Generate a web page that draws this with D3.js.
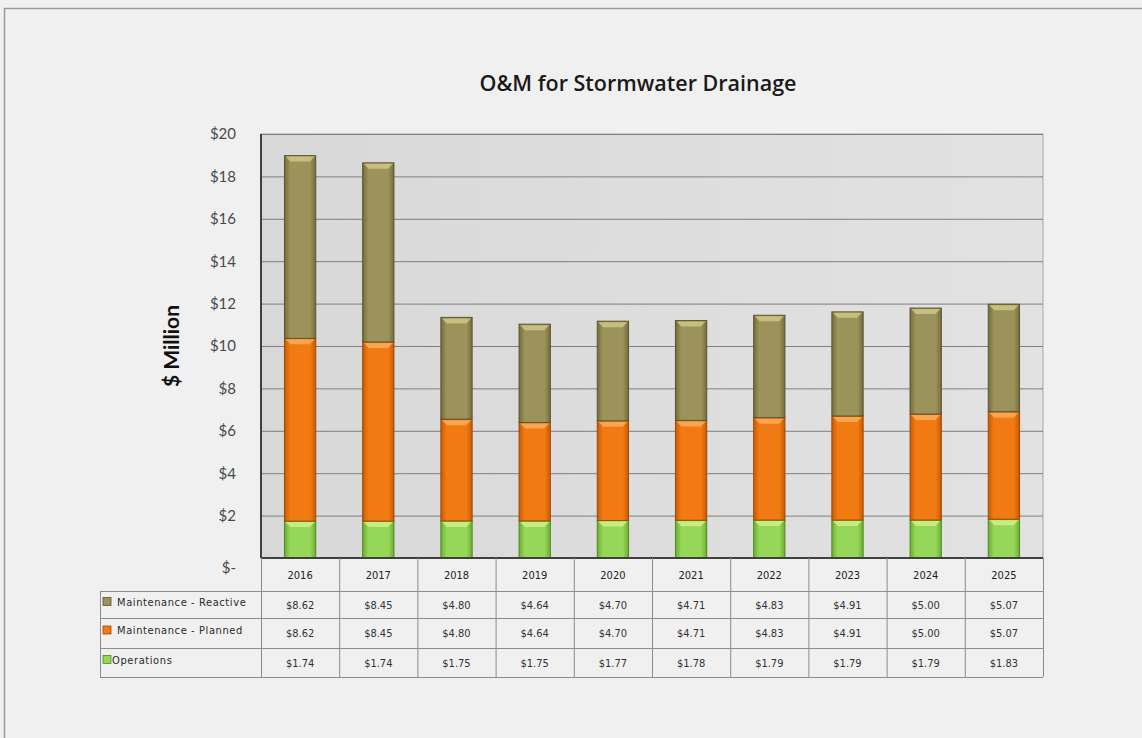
<!DOCTYPE html>
<html>
<head>
<meta charset="utf-8">
<script src="https://cdn.jsdelivr.net/npm/d3@7"></script>
<style>
  body { margin: 0; background: #f0f0f0; }
  svg { display: block; }
</style>
</head>
<body>
<div id="chart"></div>
<script>
var years = ['2016', '2017', '2018', '2019', '2020', '2021', '2022', '2023', '2024', '2025'];
var operations = [1.74, 1.74, 1.75, 1.75, 1.77, 1.78, 1.79, 1.79, 1.79, 1.83];
var planned = [8.62, 8.45, 4.80, 4.64, 4.70, 4.71, 4.83, 4.91, 5.00, 5.07];
var reactive = [8.62, 8.45, 4.80, 4.64, 4.70, 4.71, 4.83, 4.91, 5.00, 5.07];
var seriesNames = ['Maintenance - Reactive', 'Maintenance - Planned', 'Operations'];
var yTicks = [0, 2, 4, 6, 8, 10, 12, 14, 16, 18, 20];

var W = 1142, H = 738;
var plot = {left: 261, right: 1043, top: 134, bottom: 558};
var tableLeft = 100;
var rowEdges = [558, 591, 618, 648, 677];

var colors = {
  reactive: {mid: '#9c935a', edge: '#746c3c', top: '#d2ca88', stroke: '#5a5430'},
  planned: {mid: '#f27a12', edge: '#c85a05', top: '#fbb060', stroke: '#a04800'},
  operations: {mid: '#96d658', edge: '#6cae30', top: '#d4f28a', stroke: '#4f8a22'}
};

var svg = d3.select('#chart').append('svg')
  .attr('width', W)
  .attr('height', H);

// page + outer frame
svg.append('rect').attr('width', W).attr('height', H).attr('fill', '#f0f0f0');
svg.append('path')
  .attr('d', 'M4.5,' + H + 'V8.5H' + W)
  .attr('fill', 'none')
  .attr('stroke', '#9a9a9a')
  .attr('stroke-width', 1.5);

var defs = svg.append('defs');
Object.keys(colors).forEach(function(k) {
  var g = defs.append('linearGradient').attr('id', 'g-' + k)
    .attr('x1', '0').attr('x2', '1').attr('y1', '0').attr('y2', '0');
  g.append('stop').attr('offset', '0%').attr('stop-color', colors[k].edge);
  g.append('stop').attr('offset', '18%').attr('stop-color', colors[k].mid);
  g.append('stop').attr('offset', '82%').attr('stop-color', colors[k].mid);
  g.append('stop').attr('offset', '100%').attr('stop-color', colors[k].edge);
});
var bg = defs.append('linearGradient').attr('id', 'g-plot')
  .attr('x1', '0').attr('x2', '1').attr('y1', '0').attr('y2', '0');
bg.append('stop').attr('offset', '0%').attr('stop-color', '#d8d8d8');
bg.append('stop').attr('offset', '100%').attr('stop-color', '#e2e2e2');

var x = d3.scaleBand()
  .domain(years)
  .range([plot.left, plot.right])
  .paddingInner(0.6)
  .paddingOuter(0.3);

var col = d3.scaleBand()
  .domain(years)
  .range([plot.left, plot.right]);

var y = d3.scaleLinear()
  .domain([0, 20])
  .range([plot.bottom, plot.top]);

// plot background
svg.append('rect')
  .attr('x', plot.left).attr('y', plot.top)
  .attr('width', plot.right - plot.left)
  .attr('height', plot.bottom - plot.top)
  .attr('fill', 'url(#g-plot)')
  .attr('stroke', '#a6a6a6');

// gridlines
svg.append('g')
  .selectAll('line')
  .data(yTicks.filter(function(d) { return d > 0; }))
  .enter().append('line')
  .attr('x1', plot.left).attr('x2', plot.right)
  .attr('y1', function(d) { return y(d) + 0.5; })
  .attr('y2', function(d) { return y(d) + 0.5; })
  .attr('stroke', '#7f7f7f')
  .attr('stroke-width', 1);

// y axis
var yAxis = svg.append('g')
  .attr('transform', 'translate(' + plot.left + ',0)')
  .call(d3.axisLeft(y)
    .tickValues(yTicks)
    .tickSize(0)
    .tickPadding(25)
    .tickFormat(function(d) { return d === 0 ? '$-' : '$' + d; }));
yAxis.select('.domain').remove();
yAxis.selectAll('text')
  .attr('font-family', 'Lato, "Open Sans", sans-serif')
  .attr('font-size', 15)
  .attr('fill', '#4a4a4a');
yAxis.selectAll('.tick').filter(function(d) { return d === 0; }).select('text')
  .attr('dy', '0.95em')
  .attr('dx', '0');

// stacked bars
var table = years.map(function(yr, i) {
  return {year: yr, operations: operations[i], planned: planned[i], reactive: reactive[i]};
});
var stack = d3.stack().keys(['operations', 'planned', 'reactive'])(table);

var layers = svg.append('g').selectAll('g')
  .data(stack)
  .enter().append('g');

var bars = layers.selectAll('g')
  .data(function(s) { return s.map(function(d) { return {key: s.key, d: d}; }); })
  .enter().append('g');

bars.append('rect')
  .attr('x', function(e) { return x(e.d.data.year); })
  .attr('y', function(e) { return y(e.d[1]); })
  .attr('width', x.bandwidth())
  .attr('height', function(e) { return y(e.d[0]) - y(e.d[1]); })
  .attr('fill', function(e) { return 'url(#g-' + e.key + ')'; })
  .attr('stroke', function(e) { return colors[e.key].stroke; })
  .attr('stroke-width', 1);

bars.append('path')
  .attr('d', function(e) {
    var x0 = x(e.d.data.year), x1 = x0 + x.bandwidth(), t = y(e.d[1]), b = 6;
    return 'M' + (x0 + 1) + ',' + (t + 1) + 'H' + (x1 - 1) +
      'L' + (x1 - b) + ',' + (t + b) + 'H' + (x0 + b) + 'Z';
  })
  .attr('fill', function(e) { return colors[e.key].top; })
  .attr('opacity', 0.8);

// axis lines (left + bottom)
svg.append('line')
  .attr('x1', plot.left).attr('x2', plot.left)
  .attr('y1', plot.top).attr('y2', plot.bottom)
  .attr('stroke', '#404040').attr('stroke-width', 2);
svg.append('line')
  .attr('x1', plot.left).attr('x2', plot.right)
  .attr('y1', plot.bottom).attr('y2', plot.bottom)
  .attr('stroke', '#404040').attr('stroke-width', 2);

// data table
var tg = svg.append('g');
var lineColor = '#8c8c8c';

rowEdges.forEach(function(ry, i) {
  if (i === 0) return;
  tg.append('line')
    .attr('x1', tableLeft).attr('x2', plot.right)
    .attr('y1', ry + 0.5).attr('y2', ry + 0.5)
    .attr('stroke', lineColor);
});
tg.append('line')
  .attr('x1', tableLeft + 0.5).attr('x2', tableLeft + 0.5)
  .attr('y1', rowEdges[1]).attr('y2', rowEdges[4])
  .attr('stroke', lineColor);
years.concat(['end']).forEach(function(yr, i) {
  var cx = i < years.length ? col(yr) : plot.right;
  tg.append('line')
    .attr('x1', cx + 0.5).attr('x2', cx + 0.5)
    .attr('y1', rowEdges[0]).attr('y2', rowEdges[4])
    .attr('stroke', lineColor);
});

var tableFont = '"DejaVu Sans Condensed", "Liberation Sans Narrow", sans-serif';

tg.selectAll('text.yr')
  .data(years)
  .enter().append('text')
  .attr('class', 'yr')
  .attr('x', function(d) { return col(d) + col.bandwidth() / 2; })
  .attr('y', (rowEdges[0] + rowEdges[1]) / 2 + 4)
  .attr('text-anchor', 'middle')
  .attr('font-family', tableFont)
  .attr('font-size', 11)
  .attr('fill', '#222')
  .text(function(d) { return d; });

var rows = [
  {name: seriesNames[0], key: 'reactive', vals: reactive},
  {name: seriesNames[1], key: 'planned', vals: planned},
  {name: seriesNames[2], key: 'operations', vals: operations}
];

rows.forEach(function(r, ri) {
  var cy = (rowEdges[ri + 1] + rowEdges[ri + 2]) / 2;
  tg.append('rect')
    .attr('x', 103).attr('y', cy - 7)
    .attr('width', 8).attr('height', 8)
    .attr('fill', colors[r.key].mid)
    .attr('stroke', colors[r.key].stroke)
    .attr('stroke-width', 0.8);
  tg.append('text')
    .attr('x', ri === 2 ? 112 : 117)
    .attr('y', cy + 1)
    .attr('font-family', tableFont)
    .attr('font-size', 11)
    .attr('letter-spacing', 0.6)
    .attr('fill', '#2a2a2a')
    .text(r.name);
  tg.selectAll('text.v' + ri)
    .data(r.vals)
    .enter().append('text')
    .attr('class', 'v' + ri)
    .attr('x', function(d, i) { return col(years[i]) + col.bandwidth() / 2; })
    .attr('y', cy + 4)
    .attr('text-anchor', 'middle')
    .attr('font-family', tableFont)
    .attr('font-size', 11)
    .attr('fill', '#333')
    .text(function(d) { return '$' + d.toFixed(2); });
});

// title
svg.append('text')
  .attr('x', 638)
  .attr('y', 91)
  .attr('text-anchor', 'middle')
  .attr('font-family', '"Open Sans", Lato, sans-serif')
  .attr('font-weight', 600)
  .attr('font-size', 21.5)
  .attr('fill', '#1a1a1a')
  .text('O&M for Stormwater Drainage');

// y axis title
svg.append('text')
  .attr('transform', 'translate(179,346) rotate(-90)')
  .attr('text-anchor', 'middle')
  .attr('font-family', 'Lato, "Open Sans", sans-serif')
  .attr('font-weight', 'bold')
  .attr('font-size', 21)
  .attr('fill', '#111')
  .text('$ Million');
</script>
</body>
</html>
